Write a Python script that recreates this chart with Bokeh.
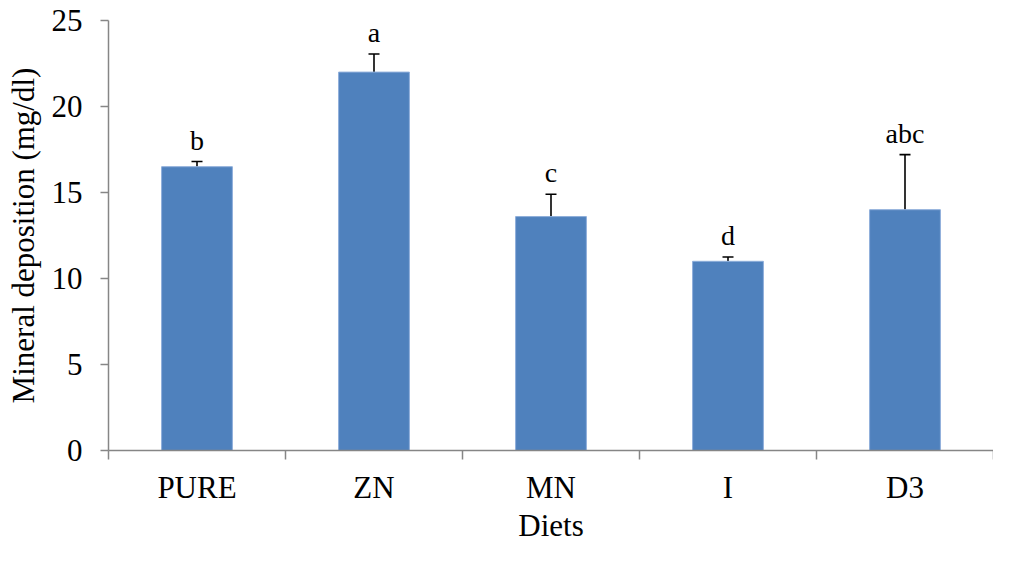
import numpy as np
from bokeh.plotting import figure
from bokeh.models import ColumnDataSource, Whisker, TeeHead, FixedTicker, Range1d, LabelSet
from bokeh.embed import file_html
from bokeh.resources import INLINE

categories = ["PURE", "ZN", "MN", "I", "D3"]
means = [16.5, 22.0, 13.6, 11.0, 14.0]
errors = [0.3, 1.05, 1.3, 0.25, 3.2]
letters = ["b", "a", "c", "d", "abc"]
y_ticks = [0, 5, 10, 15, 20, 25]
x_title = "Diets"
y_title = "Mineral deposition (mg/dl)"

n = len(categories)
xs = np.arange(n) + 0.5
tops = [m + e for m, e in zip(means, errors)]
src = ColumnDataSource(dict(x=xs, mean=means, top=tops, letter=letters))

FONT = "Liberation Serif"
AXIS_GREY = "#868686"

p = figure(width=993, height=545, output_backend="svg", toolbar_location=None,
           x_range=Range1d(0, n), y_range=Range1d(0, 25),
           min_border_left=108, min_border_right=0, min_border_top=20, min_border_bottom=90)
p.outline_line_color = None
p.grid.grid_line_color = None

p.vbar(x="x", top="mean", bottom=0, width=0.4, source=src,
       fill_color="#4F81BD", line_color="#8EAEDA", line_width=1)

w = Whisker(base="x", lower="mean", upper="top", source=src,
            line_color="black", line_width=1.6,
            upper_head=TeeHead(size=11, line_color="black", line_width=1.6),
            lower_head=None)
p.add_layout(w)

labels = LabelSet(x="x", y="top", text="letter", source=src, y_offset=12,
                  text_align="center", text_baseline="alphabetic",
                  text_font=FONT, text_font_size="28px", text_color="black")
p.add_layout(labels)

# x axis
p.xaxis.ticker = FixedTicker(ticks=list(xs), minor_ticks=list(range(n + 1)))
p.xaxis.major_label_overrides = {float(x): c for x, c in zip(xs, categories)}
p.xaxis.major_tick_out = 0
p.xaxis.major_tick_in = 0
p.xaxis.minor_tick_out = 9
p.xaxis.minor_tick_in = 0
p.xaxis.minor_tick_line_color = AXIS_GREY
p.xaxis.minor_tick_line_width = 1.5
p.xaxis.axis_line_color = AXIS_GREY
p.xaxis.axis_line_width = 1.5
p.xaxis.major_label_standoff = 10
p.xaxis.axis_label = x_title
p.xaxis.axis_label_standoff = 0

# y axis
p.yaxis.ticker = FixedTicker(ticks=y_ticks, minor_ticks=[])
p.yaxis.major_tick_out = 8
p.yaxis.major_tick_in = 0
p.yaxis.major_tick_line_color = AXIS_GREY
p.yaxis.major_tick_line_width = 1.5
p.yaxis.axis_line_color = AXIS_GREY
p.yaxis.axis_line_width = 1.5
p.yaxis.major_label_standoff = 18
p.yaxis.axis_label = y_title
p.yaxis.axis_label_standoff = 8

for ax in (p.xaxis, p.yaxis):
    ax.major_label_text_font = FONT
    ax.major_label_text_font_size = "31px"
    ax.major_label_text_color = "black"
    ax.axis_label_text_font = FONT
    ax.axis_label_text_font_size = "31px"
    ax.axis_label_text_font_style = "normal"
    ax.axis_label_text_color = "black"

open("out.html", "w").write(file_html(p, INLINE))
